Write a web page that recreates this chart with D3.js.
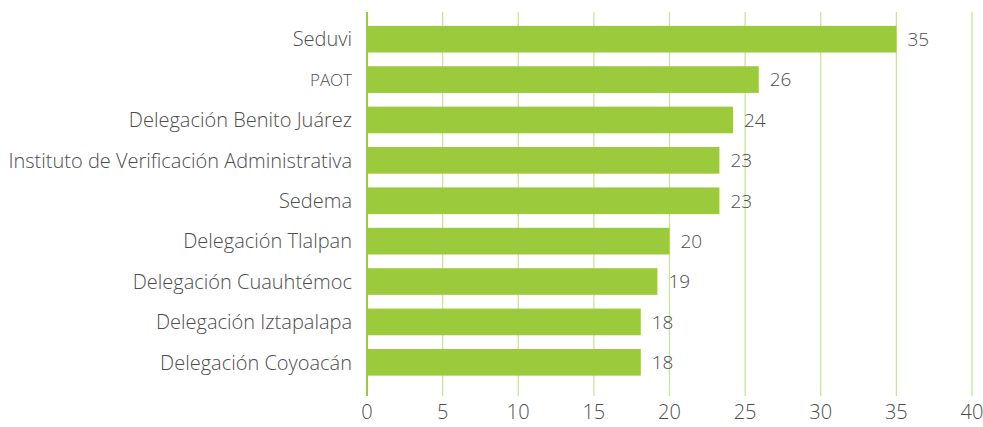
<!DOCTYPE html>
<html>
<head>
<meta charset="utf-8">
<script src="https://cdn.jsdelivr.net/npm/d3@7"></script>
<style>
  body { margin: 0; background: #fff; }
  svg text { font-family: "Open Sans", "Noto Sans", sans-serif; font-weight: 300; fill: #4d4d4d; }
</style>
</head>
<body>
<div class="chart"></div>
<script>
// data
const categories = [
  "Seduvi",
  "PAOT",
  "Delegación Benito Juárez",
  "Instituto de Verificación Administrativa",
  "Sedema",
  "Delegación Tlalpan",
  "Delegación Cuauhtémoc",
  "Delegación Iztapalapa",
  "Delegación Coyoacán"
];
const values = [35, 25.9, 24.2, 23.3, 23.3, 20, 19.2, 18.1, 18.1];
const valueLabels = ["35", "26", "24", "23", "23", "20", "19", "18", "18"];
const xTicks = [0, 5, 10, 15, 20, 25, 30, 35, 40];

const width = 983, height = 427;
const x0 = 367, x1 = 972;
const gridTop = 12, gridBottom = 396;

const svg = d3.select(".chart").append("svg")
  .attr("width", width)
  .attr("height", height);

const x = d3.scaleLinear().domain([0, 40]).range([x0, x1]);
const y = d3.scaleBand()
  .domain(categories)
  .range([19, 382.5])
  .paddingInner(0.34)
  .paddingOuter(0.17);

// vertical grid
svg.append("g").selectAll("line")
  .data(xTicks.filter(d => d > 0))
  .join("line")
  .attr("x1", d => x(d)).attr("x2", d => x(d))
  .attr("y1", gridTop).attr("y2", gridBottom)
  .attr("stroke", "#c9e39e")
  .attr("stroke-width", 1.3);

// tick labels
svg.append("g").selectAll("text")
  .data(xTicks)
  .join("text")
  .attr("x", d => x(d))
  .attr("y", 419)
  .attr("text-anchor", "middle")
  .style("font-size", "20px")
  .text(d => d);

// bars
const rows = categories.map((c, i) => ({name: c, value: values[i], label: valueLabels[i]}));

svg.append("g").selectAll("rect")
  .data(rows)
  .join("rect")
  .attr("x", x(0))
  .attr("y", d => y(d.name))
  .attr("width", d => x(d.value) - x(0))
  .attr("height", y.bandwidth())
  .attr("fill", "#9bcb3c");

// value labels
svg.append("g").selectAll("text")
  .data(rows)
  .join("text")
  .attr("x", d => x(d.value) + 11)
  .attr("y", d => y(d.name) + y.bandwidth() / 2)
  .attr("dy", "0.36em")
  .style("font-size", "19px")
  .text(d => d.label);

// category labels
svg.append("g").selectAll("text")
  .data(rows)
  .join("text")
  .attr("x", 352)
  .attr("y", d => y(d.name) + y.bandwidth() / 2)
  .attr("dy", "0.36em")
  .attr("text-anchor", "end")
  .style("font-size", d => d.name === "PAOT" ? "17px" : "20px")
  .text(d => d.name);

// zero axis line
svg.append("line")
  .attr("x1", x(0)).attr("x2", x(0))
  .attr("y1", gridTop).attr("y2", gridBottom)
  .attr("stroke", "#9bcb3c")
  .attr("stroke-width", 2);
</script>
</body>
</html>
